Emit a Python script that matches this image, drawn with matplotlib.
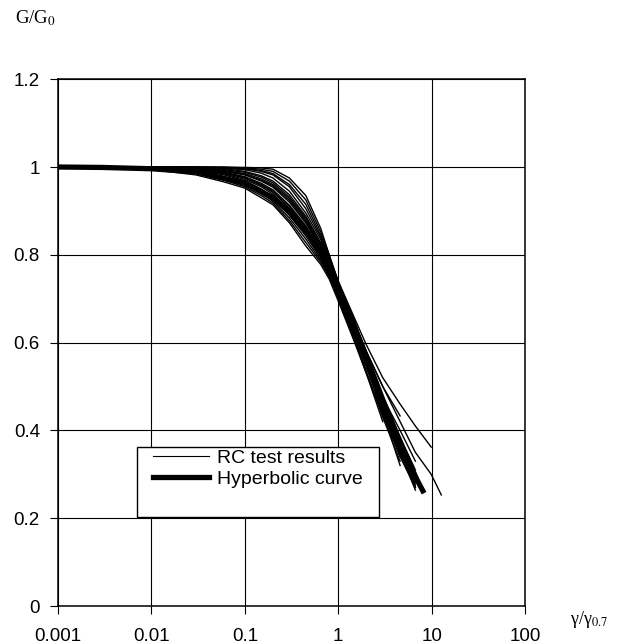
import numpy as np
import matplotlib
matplotlib.use("Agg")
from matplotlib import pyplot as plt
from matplotlib.patches import Rectangle
from matplotlib.lines import Line2D

plt.rcParams['font.family'] = ['Liberation Sans', 'DejaVu Sans']
plt.rcParams['mathtext.fontset'] = 'stix'

# strain grid gamma/gamma_0.7 of the RC test curves
gx = [0.001, 0.003, 0.01, 0.03, 0.06, 0.1, 0.15, 0.2, 0.3, 0.45,
      0.65, 0.8, 1.0, 1.5, 2.0, 3.0, 4.6, 6.7, 9.9, 12.7]
nan = np.nan

rc_tests = [
    [1, 1, 1, 1, 1, 0.999, 0.998, 0.995, 0.975, 0.935, 0.86, 0.80, 0.74, 0.65, 0.56, 0.43, nan, nan, nan, nan],
    [1, 1, 1, 1, 0.999, 0.998, 0.995, 0.99, 0.968, 0.925, 0.852, 0.80, 0.735, 0.645, 0.58, 0.50, 0.433, nan, nan, nan],
    [1, 1, 1, 1, 0.999, 0.997, 0.992, 0.985, 0.96, 0.915, 0.845, 0.795, 0.74, 0.655, 0.595, 0.52, 0.46, 0.41, 0.362, nan],
    [1, 1, 1, 0.999, 0.998, 0.996, 0.99, 0.982, 0.955, 0.905, 0.84, 0.79, 0.73, 0.645, 0.58, 0.50, 0.42, 0.35, 0.30, 0.253],
    [1, 1, 1, 0.999, 0.997, 0.994, 0.986, 0.975, 0.945, 0.895, 0.835, 0.788, 0.728, 0.635, 0.565, 0.475, 0.40, 0.33, nan, nan],
    [1, 1, 1, 0.999, 0.996, 0.99, 0.98, 0.968, 0.937, 0.888, 0.828, 0.785, 0.725, 0.63, 0.555, 0.45, 0.35, 0.264, nan, nan],
    [1, 1, 0.999, 0.998, 0.994, 0.988, 0.977, 0.964, 0.932, 0.884, 0.824, 0.782, 0.722, 0.628, 0.556, 0.458, 0.36, nan, nan, nan],
    [1, 1, 0.999, 0.997, 0.992, 0.985, 0.973, 0.96, 0.928, 0.88, 0.82, 0.78, 0.72, 0.625, 0.555, 0.46, 0.37, 0.29, nan, nan],
    [1, 1, 0.999, 0.997, 0.991, 0.983, 0.97, 0.957, 0.924, 0.876, 0.818, 0.777, 0.719, 0.622, 0.55, 0.45, 0.34, nan, nan, nan],
    [1, 1, 0.999, 0.996, 0.99, 0.982, 0.968, 0.954, 0.92, 0.872, 0.815, 0.775, 0.718, 0.62, 0.545, 0.44, 0.32, nan, nan, nan],
    [1, 1, 0.999, 0.996, 0.988, 0.978, 0.963, 0.948, 0.913, 0.866, 0.81, 0.772, 0.72, 0.63, 0.56, 0.46, 0.36, 0.28, nan, nan],
    [1, 1, 0.998, 0.995, 0.987, 0.976, 0.96, 0.945, 0.91, 0.863, 0.808, 0.77, 0.717, 0.625, 0.553, 0.452, 0.355, 0.275, nan, nan],
    [1, 1, 0.998, 0.995, 0.986, 0.975, 0.958, 0.942, 0.906, 0.86, 0.806, 0.768, 0.715, 0.62, 0.548, 0.445, 0.345, nan, nan, nan],
    [1, 1, 0.998, 0.994, 0.984, 0.972, 0.955, 0.938, 0.90, 0.855, 0.802, 0.765, 0.712, 0.625, 0.56, 0.47, 0.385, 0.31, nan, nan],
    [1, 1, 0.998, 0.993, 0.982, 0.969, 0.95, 0.932, 0.895, 0.85, 0.798, 0.762, 0.712, 0.618, 0.548, 0.45, 0.35, 0.27, nan, nan],
    [1, 0.999, 0.997, 0.99, 0.978, 0.964, 0.945, 0.928, 0.89, 0.843, 0.792, 0.758, 0.708, 0.615, 0.545, 0.445, 0.345, 0.27, nan, nan],
    [1, 0.999, 0.996, 0.988, 0.974, 0.959, 0.94, 0.922, 0.884, 0.836, 0.787, 0.754, 0.705, 0.61, 0.535, 0.43, 0.33, nan, nan, nan],
    [1, 0.999, 0.995, 0.985, 0.97, 0.955, 0.935, 0.918, 0.878, 0.828, 0.783, 0.75, 0.70, 0.605, 0.53, 0.42, nan, nan, nan, nan],
    [1, 0.998, 0.994, 0.982, 0.966, 0.952, 0.93, 0.914, 0.873, 0.82, 0.778, 0.745, 0.695, 0.60, 0.53, 0.435, 0.34, 0.27, nan, nan],
]

# hyperbolic curve
hyp_x = [0.001, 0.003, 0.01, 0.03, 0.1, 0.2, 0.3, 0.5, 0.7, 1.0,
         1.5, 2.0, 3.0, 4.0, 5.0, 6.0, 7.0, 8.3]
hyp_y = [1.0, 0.999, 0.996, 0.989, 0.963, 0.93, 0.898, 0.842, 0.79, 0.72,
         0.635, 0.568, 0.47, 0.405, 0.355, 0.318, 0.287, 0.257]

xticks = [0.001, 0.01, 0.1, 1, 10, 100]
xlabels = ["0.001", "0.01", "0.1", "1", "10", "100"]
yticks = [0, 0.2, 0.4, 0.6, 0.8, 1.0, 1.2]
ylabels = ["0", "0.2", "0.4", "0.6", "0.8", "1", "1.2"]

fig = plt.figure(figsize=(6.28, 6.44), dpi=100)
ax = fig.add_axes([0.0924, 0.059, 0.7436, 0.818])

for yv in rc_tests:
    ax.plot(gx, yv, color="black", lw=1.0, zorder=2)
ax.plot(hyp_x, hyp_y, color="black", lw=3.8, solid_capstyle="butt", zorder=2.5)

ax.set_xscale("log")
ax.set_xlim(0.001, 100)
ax.set_ylim(0, 1.2)
ax.set_xticks(xticks)
ax.set_xticklabels(xlabels)
ax.set_yticks(yticks)
ax.set_yticklabels(ylabels)
ax.minorticks_off()
ax.grid(True, color="black", lw=0.8)
ax.set_axisbelow(True)
ax.tick_params(direction="out", length=6, width=0.8, labelsize=13.5)
ax.tick_params(axis="x", pad=10)
ax.tick_params(axis="y", pad=7)
for s in ax.spines.values():
    s.set_linewidth(1.1)

# legend box
ax.add_patch(Rectangle((0.169, 0.169), 0.518, 0.133, transform=ax.transAxes,
                       facecolor="white", edgecolor="black", lw=1.0, zorder=3))
handles = [Line2D([], [], color="black", lw=0.8),
           Line2D([], [], color="black", lw=3.8)]
leg = ax.legend(handles, ["RC test results", "Hyperbolic curve"],
                loc="upper left", bbox_to_anchor=(0.2034, 0.298), frameon=False,
                fontsize=14, handlelength=2.9, handletextpad=0.4,
                labelspacing=0.2, borderpad=0, borderaxespad=0)
leg.set_zorder(4)

fig.text(15 / 628, 1 - 18 / 644, "G/G$_0$", family="Liberation Serif",
         fontsize=13.5, va="center", ha="left")
fig.text(570 / 628, 1 - 620 / 644, "γ/γ$_{0.7}$", family="Liberation Serif",
         fontsize=13, va="center", ha="left")

fig.savefig("out.png", dpi=100)
